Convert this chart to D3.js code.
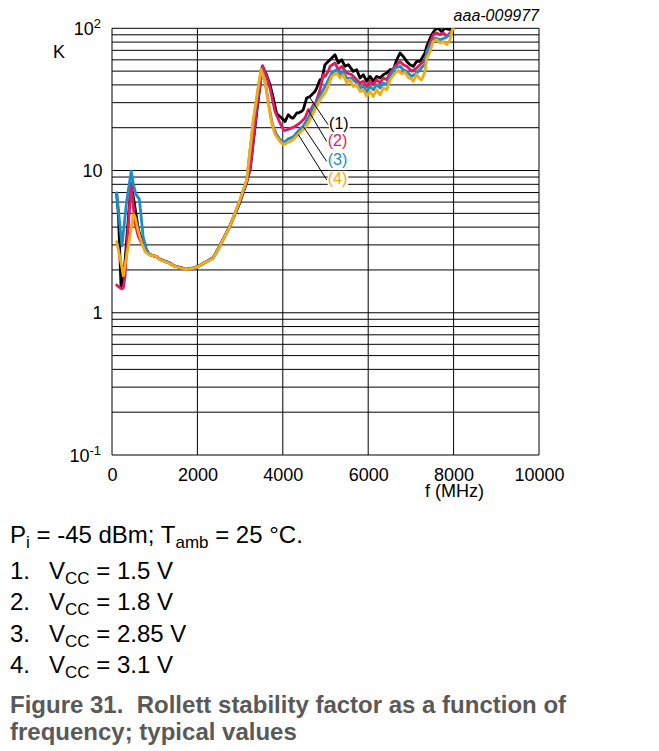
<!DOCTYPE html>
<html><head><meta charset="utf-8">
<script src="https://cdn.jsdelivr.net/npm/d3@7"></script>
<style>body{margin:0;background:#fff}svg{display:block}text{white-space:pre}</style>
</head><body>
<svg id="c" width="659" height="751"></svg>
<script>
// ---------- data ----------
const xTickValues = [0, 2000, 4000, 6000, 8000, 10000];
const yTickLabels = [
  {v: 100, base: "10", sup: "2"},
  {v: 10, base: "10", sup: null},
  {v: 1, base: "1", sup: null},
  {v: 0.1, base: "10", sup: "-1"}
];
const seriesNames = ["(1)", "(2)", "(3)", "(4)"];
const seriesColors = ["#000000", "#e5185d", "#1a8dcb", "#f7a913"];

// [frequency MHz, K]
const vcc15 = [[110,6.8],[150,5.0],[211,1.53],[260,1.65],[300,2.2],[380,4.5],[445,8.0],[500,6.5],[560,5.0],[620,3.8],[696,3.26],[773,2.85],[850,2.62],[890,2.56],[1047,2.47],[1124,2.38],[1358,2.24],[1436,2.15],[1670,2.05],[1710,2.02],[1904,2.07],[1984,2.1],[2138,2.22],[2372,2.45],[2529,2.98],[2764,4.1],[2998,6.0],[3155,8.3],[3240,10.5],[3389,25.5],[3520,54],[3620,47],[3700,40],[3780,32],[3857,25],[3974,23.4],[4052,22.1],[4129,24.7],[4209,23.4],[4246,23.4],[4326,25.4],[4363,25.4],[4443,26.1],[4480,26.8],[4560,32.4],[4637,33.2],[4677,34.1],[4754,36],[4794,38],[4871,43.5],[4911,43.5],[4988,55.5],[5028,57],[5106,60.1],[5223,65.2],[5300,57],[5379,60.1],[5457,54],[5534,55.5],[5651,49.8],[5731,51.2],[5808,44.7],[5885,47.2],[5965,42.4],[6042,45.9],[6120,42.4],[6199,45.9],[6277,44.7],[6354,47.2],[6434,48.5],[6511,51.2],[6588,51.2],[6668,60.1],[6745,67],[6822,63.4],[6902,58.5],[6979,55.5],[7056,54],[7136,58.5],[7213,58.5],[7330,67],[7370,74.6],[7487,90.2],[7564,97.8],[7642,100],[7721,94.7],[7799,100],[7916,97.8],[7993,100]];

const vcc18 = [[110,1.57],[160,1.52],[227,1.47],[265,1.5],[304,1.8],[375,3.8],[445,8.17],[539,4.27],[616,3.44],[700,3.05],[773,2.85],[850,2.62],[890,2.56],[1047,2.48],[1124,2.37],[1358,2.23],[1436,2.14],[1670,2.05],[1710,2.01],[1904,2.06],[1984,2.09],[2138,2.22],[2372,2.43],[2529,2.96],[2764,4.08],[2998,6.1],[3155,8.4],[3232,10.1],[3389,26.8],[3529,54.6],[3620,46],[3700,38],[3817,26],[3935,21.6],[4012,19.4],[4052,19.1],[4169,19.7],[4286,20.4],[4403,21.6],[4520,23.4],[4597,26.8],[4637,26.1],[4714,29],[4754,29],[4833,34.1],[4871,37],[4949,47.2],[4988,45.9],[5066,49.8],[5106,54],[5223,57],[5300,51.2],[5379,54],[5497,48.5],[5614,47.2],[5731,43.5],[5808,41.2],[5885,42.4],[5965,39],[6042,42.4],[6120,40.1],[6199,43.5],[6277,41.2],[6354,44.7],[6434,43.5],[6511,48.5],[6628,54],[6745,58.5],[6822,55.5],[6902,54],[7019,49.8],[7136,52.6],[7213,55.5],[7330,60.1],[7407,72.6],[7447,78.8],[7524,90.2],[7604,92.7],[7682,90.2],[7759,92.7],[7838,87.7],[7916,92.7],[7993,100]];

const vcc285 = [[110,6.95],[140,5.6],[234,2.95],[340,6.0],[450,9.9],[500,8.0],[560,6.8],[640,6.3],[690,4.5],[730,3.4],[813,2.77],[890,2.55],[1047,2.48],[1124,2.36],[1358,2.22],[1436,2.14],[1670,2.04],[1710,2.01],[1904,2.06],[1984,2.09],[2138,2.23],[2372,2.43],[2529,2.97],[2764,4.07],[2998,6.2],[3155,8.6],[3309,22],[3426,38],[3500,52],[3600,40],[3680,28],[3760,21],[3850,18],[3935,16.5],[4012,15.7],[4129,16.7],[4246,17.3],[4363,19],[4480,20.6],[4597,23.5],[4714,27.7],[4871,33.5],[5028,41.2],[5145,48.5],[5262,51.2],[5340,47.2],[5417,49.8],[5497,44.7],[5614,44.7],[5731,41.2],[5808,38],[5885,39],[5965,36],[6042,39],[6120,37],[6199,40.1],[6277,38],[6354,41.2],[6434,40.1],[6511,45.9],[6628,52.6],[6745,54],[6822,51.2],[6902,49.8],[7019,45.9],[7136,48.5],[7213,51.2],[7330,56.3],[7370,68.8],[7447,75.3],[7564,85.5],[7682,83.2],[7799,85.5],[7916,90.2],[7993,100]];

const vcc31 = [[110,3.17],[227,2.12],[265,1.82],[380,2.93],[499,4.89],[539,4.75],[616,3.73],[696,3.1],[773,2.7],[850,2.58],[890,2.55],[1047,2.48],[1124,2.36],[1358,2.22],[1436,2.14],[1670,2.04],[1710,2.01],[1904,2.06],[1984,2.09],[2138,2.22],[2372,2.42],[2529,2.95],[2764,4.05],[2998,6.23],[3155,8.6],[3309,22.8],[3426,39],[3490,51.5],[3580,42],[3661,30],[3740,21.5],[3817,18],[3935,16.0],[4012,15.2],[4129,15.8],[4246,16.5],[4363,17.9],[4480,19.4],[4597,21.6],[4714,25.4],[4871,31.5],[4988,35],[5028,37],[5145,45.9],[5262,48.5],[5340,44.7],[5417,47.2],[5497,41.2],[5574,43.5],[5651,39],[5731,40.1],[5808,36],[5885,37],[5965,33.2],[6042,36],[6120,33.2],[6199,37],[6277,34.1],[6354,38],[6434,37],[6511,43.5],[6628,48.5],[6705,50.5],[6785,48],[6862,49],[6939,45],[7019,44],[7056,42.4],[7136,47.5],[7213,44],[7253,43.5],[7330,49.8],[7370,61.8],[7447,68.8],[7524,80.9],[7604,83.2],[7682,78.8],[7759,80.9],[7838,76.7],[7916,83.2],[7970,97.8],[8000,100]];

// leader lines: from point on curve to label anchor (data units)
const leaderFrom = [[4637,32.4],[4597,26.5],[4480,20.4],[4363,17.9]];
const leaderTo = [[5060,21.0],[5028,16.0],[5028,11.6],[5028,8.6]];

// ---------- drawing ----------
const font = "Arial, 'Liberation Sans', Helvetica, sans-serif";
const svg = d3.select("#c").attr("font-family", font);
const x = d3.scaleLinear().domain([0, 10000]).range([112, 539]);
const y = d3.scaleLog().domain([0.1, 100]).range([455, 28.3]);

const grid = svg.append("g").attr("stroke", "#000").attr("stroke-width", 1);
grid.selectAll("line.h").data(y.ticks()).join("line").attr("class", "h")
  .attr("x1", x(0)).attr("x2", x(10000)).attr("y1", d => y(d)).attr("y2", d => y(d));
grid.selectAll("line.v").data(xTickValues).join("line").attr("class", "v")
  .attr("x1", d => x(d)).attr("x2", d => x(d)).attr("y1", y(100)).attr("y2", y(0.1));

// x axis labels
const xa = svg.append("g").attr("transform", `translate(0,${y(0.1)})`)
  .call(d3.axisBottom(x).tickValues(xTickValues).tickSize(0).tickFormat(d3.format("d")));
xa.select(".domain").remove();
xa.selectAll("text").attr("y", 25.5).attr("dy", null).attr("font-size", 18).attr("fill", "#000").attr("font-family", font);

svg.append("text").attr("x", x(8000) + 1).attr("y", 497).attr("text-anchor", "middle")
  .attr("font-size", 18).text("f (MHz)");

// y labels
yTickLabels.forEach(t => {
  const tx = svg.append("text").attr("text-anchor", "end").attr("font-size", 18)
    .attr("x", t.sup ? 101 : 102.5).attr("y", y(t.v) + 6.5);
  tx.append("tspan").text(t.base);
  if (t.sup) tx.append("tspan").attr("font-size", 13).attr("dy", -7).text(t.sup);
});
svg.append("text").attr("x", 53).attr("y", 58).attr("font-size", 18).text("K");
svg.append("text").attr("x", 539).attr("y", 21).attr("text-anchor", "end")
  .attr("font-size", 16).attr("font-style", "italic").text("aaa-009977");

// curves
svg.append("clipPath").attr("id", "clip").append("rect")
  .attr("x", x(0)).attr("y", y(100)).attr("width", x(10000) - x(0)).attr("height", y(0.1) - y(100));
const line = d3.line().x(d => x(d[0])).y(d => y(d[1]));
const allSeries = [vcc15, vcc18, vcc285, vcc31];
const cg = svg.append("g").attr("clip-path", "url(#clip)");
allSeries.forEach((s, i) => {
  cg.append("path").datum(s).attr("d", line).attr("fill", "none")
    .attr("stroke", seriesColors[i]).attr("stroke-width", 2.8)
    .attr("stroke-linejoin", "round").attr("stroke-linecap", "round");
});

// leaders and labels (labels knock out the grid behind them)
seriesNames.forEach((n, i) => {
  svg.append("line").attr("x1", x(leaderFrom[i][0])).attr("y1", y(leaderFrom[i][1]))
    .attr("x2", x(leaderTo[i][0])).attr("y2", y(leaderTo[i][1]))
    .attr("stroke", "#000").attr("stroke-width", 1);
  const lx = x(leaderTo[i][0]) + 1, ly = y(leaderTo[i][1]) + 4;
  const lt = svg.append("text").attr("x", lx).attr("y", ly)
    .attr("font-size", 16).attr("fill", seriesColors[i]).text(n);
  const bb = lt.node().getBBox();
  svg.insert("rect", () => lt.node()).attr("x", bb.x).attr("y", bb.y + 1)
    .attr("width", bb.width + 1).attr("height", bb.height - 2).attr("fill", "#fff");
});

// notes below chart
const notes = svg.append("g").attr("font-size", 24).attr("fill", "#000");
const p = notes.append("text").attr("x", 10).attr("y", 543);
p.append("tspan").text("P");
p.append("tspan").attr("font-size", 17).attr("dy", 5).text("i");
p.append("tspan").attr("dy", -5).text(" = -45 dBm; T");
p.append("tspan").attr("font-size", 17).attr("dy", 5).text("amb");
p.append("tspan").attr("dy", -5).text(" = 25 °C.");

const vccItems = ["1.5 V", "1.8 V", "2.85 V", "3.1 V"];
const itemBase = [579, 610, 641.5, 673];
vccItems.forEach((v, i) => {
  notes.append("text").attr("x", 10).attr("y", itemBase[i]).text((i + 1) + ".");
  const t = notes.append("text").attr("x", 49).attr("y", itemBase[i]);
  t.append("tspan").text("V");
  t.append("tspan").attr("font-size", 17).attr("dy", 5).text("CC");
  t.append("tspan").attr("dy", -5).text(" = " + v);
});

const cap = svg.append("g").attr("font-size", 24).attr("font-weight", "bold").attr("fill", "#595959");
cap.append("text").attr("x", 10).attr("y", 713).text("Figure 31.  Rollett stability factor as a function of");
cap.append("text").attr("x", 10).attr("y", 740).text("frequency; typical values");
</script>
</body></html>
